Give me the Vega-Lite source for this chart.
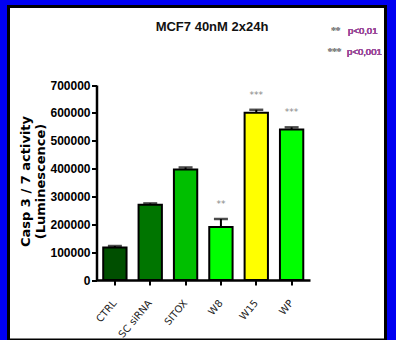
{
  "$schema": "https://vega.github.io/schema/vega-lite/v6.json",
  "width": 377,
  "height": 333.5,
  "autosize": {"type": "none"},
  "padding": {"left": 8.5, "top": 6.5, "right": 10.5, "bottom": 0},
  "background": "#0000f2",
  "title": {
    "text": "MCF7 40nM 2x24h",
    "frame": "group",
    "anchor": "middle",
    "dx": 15,
    "offset": -33.5,
    "baseline": "middle",
    "font": "Liberation Sans",
    "fontSize": 13,
    "fontWeight": "bold",
    "color": "#111111"
  },
  "config": {
    "view": {"fill": "white", "stroke": "black", "strokeWidth": 3},
    "axis": {"grid": false}
  },
  "data": {
    "values": [
      {"cond": "CTRL", "mean": 117000, "hi": 122000, "sig": ""},
      {"cond": "SC siRNA", "mean": 270000, "hi": 275000, "sig": ""},
      {"cond": "SITOX", "mean": 397000, "hi": 404000, "sig": ""},
      {"cond": "W8", "mean": 190000, "hi": 219000, "sig": "**"},
      {"cond": "W15", "mean": 600000, "hi": 611000, "sig": "***"},
      {"cond": "WP", "mean": 540000, "hi": 548000, "sig": "***"}
    ]
  },
  "encoding": {
    "x": {
      "field": "cond",
      "type": "nominal",
      "sort": null,
      "scale": {"range": [88, 301.5], "paddingInner": 0.34, "paddingOuter": 0.19},
      "axis": {
        "title": null,
        "offset": -60,
        "labelAngle": -50,
        "labelAlign": "right",
        "labelBaseline": "middle",
        "labelPadding": 16,
        "labelFont": "DejaVu Sans",
        "labelFontSize": 10,
        "labelColor": "#222222",
        "tickSize": 5,
        "tickWidth": 2,
        "tickColor": "black",
        "domainColor": "black",
        "domainWidth": 2.5
      }
    }
  },
  "layer": [
    {
      "mark": {"type": "bar", "stroke": "black", "strokeWidth": 2},
      "encoding": {
        "y": {
          "field": "mean",
          "type": "quantitative",
          "scale": {"domain": [0, 700000], "range": [273.5, 78.5], "nice": false},
          "axis": {
            "offset": -88,
            "values": [0, 100000, 200000, 300000, 400000, 500000, 600000, 700000],
            "format": "d",
            "labelFont": "Liberation Sans",
            "labelFontSize": 12,
            "labelFontWeight": "bold",
            "labelColor": "black",
            "labelPadding": 1.5,
            "tickSize": 5,
            "tickWidth": 2,
            "tickColor": "black",
            "domainColor": "black",
            "domainWidth": 2.5,
            "title": ["Casp 3 / 7 activity", "(Luminescence)"],
            "titleFont": "DejaVu Sans",
            "titleFontSize": 13,
            "titleFontWeight": "bold",
            "titleColor": "black",
            "titleAngle": -90,
            "titleAlign": "center",
            "titleBaseline": "top",
            "titleLineHeight": 15,
            "titleX": -77,
            "titleY": 174.5
          }
        },
        "fill": {
          "field": "cond",
          "type": "nominal",
          "scale": {
            "domain": ["CTRL", "SC siRNA", "SITOX", "W8", "W15", "WP"],
            "range": ["#004f00", "#007500", "#00bf00", "#00ff00", "#ffff00", "#00ff00"]
          },
          "legend": null
        }
      }
    },
    {
      "mark": {"type": "rule", "color": "black", "strokeWidth": 2},
      "encoding": {
        "y": {"field": "mean", "type": "quantitative"},
        "y2": {"field": "hi"}
      }
    },
    {
      "mark": {"type": "tick", "color": "black", "size": 14, "thickness": 2.5},
      "encoding": {
        "y": {"field": "hi", "type": "quantitative"}
      }
    },
    {
      "mark": {"type": "text", "dy": -15, "font": "DejaVu Sans", "fontSize": 9, "color": "#888888", "baseline": "middle"},
      "encoding": {
        "y": {"field": "hi", "type": "quantitative"},
        "text": {"field": "sig"}
      }
    },
    {
      "mark": {"type": "text", "align": "right", "dx": 48.7, "font": "DejaVu Sans", "fontSize": 9, "color": "#888888", "baseline": "middle"},
      "encoding": {
        "x": {"datum": "WP"},
        "y": {"datum": 893800},
        "text": {"value": "**"}
      }
    },
    {
      "mark": {"type": "text", "align": "left", "dx": 56.5, "font": "Liberation Sans", "fontSize": 9.5, "fontWeight": "normal", "color": "#9a4a9a", "baseline": "middle"},
      "encoding": {
        "x": {"datum": "WP"},
        "y": {"datum": 893800},
        "text": {"value": "p<0,01"}
      }
    },
    {
      "mark": {"type": "text", "align": "right", "dx": 49.7, "font": "DejaVu Sans", "fontSize": 9, "color": "#888888", "baseline": "middle"},
      "encoding": {
        "x": {"datum": "WP"},
        "y": {"datum": 818500},
        "text": {"value": "***"}
      }
    },
    {
      "mark": {"type": "text", "align": "left", "dx": 55.5, "font": "Liberation Sans", "fontSize": 9.5, "fontWeight": "normal", "color": "#9a4a9a", "baseline": "middle"},
      "encoding": {
        "x": {"datum": "WP"},
        "y": {"datum": 818500},
        "text": {"value": "p<0,001"}
      }
    }
  ]
}
